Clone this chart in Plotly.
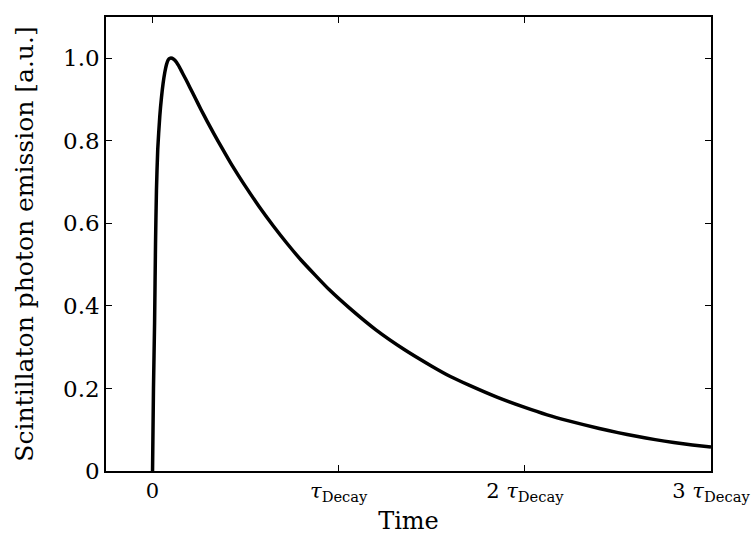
import plotly.graph_objects as go

# Pulse shape (time in units of tau_Decay)
time_vals = [0, 0.005, 0.011, 0.016, 0.021, 0.028, 0.039, 0.048, 0.057, 0.066, 0.075, 0.084, 0.093,
             0.105, 0.12, 0.14, 0.16, 0.18, 0.2, 0.23, 0.26, 0.295, 0.33, 0.375, 0.42, 0.46, 0.5,
             0.575, 0.65, 0.725, 0.8, 0.875, 0.95, 1.06, 1.2, 1.35, 1.5, 1.6, 1.7, 1.85,
             2.0, 2.12, 2.23, 2.4, 2.5, 2.6, 2.7, 2.8, 2.9, 3.0]
emission = [0, 0.2, 0.36, 0.55, 0.68, 0.78, 0.86, 0.905, 0.94, 0.966, 0.985, 0.996, 1.0,
            1.0, 0.995, 0.982, 0.965, 0.948, 0.930, 0.903, 0.876, 0.846, 0.817, 0.781, 0.746, 0.717, 0.689,
            0.639, 0.593, 0.550, 0.510, 0.474, 0.439, 0.394, 0.342, 0.295, 0.254, 0.229, 0.208, 0.179,
            0.154, 0.136, 0.122, 0.103, 0.093, 0.084, 0.076, 0.069, 0.063, 0.058]

x_tickvals = [0, 1, 2, 3]
x_ticktext = ["0", "<i>τ</i><sub>Decay</sub>", "2 <i>τ</i><sub>Decay</sub>", "3 <i>τ</i><sub>Decay</sub>"]
y_tickvals = [0, 0.2, 0.4, 0.6, 0.8, 1.0]
y_ticktext = ["0", "0.2", "0.4", "0.6", "0.8", "1.0"]

FONT = "DejaVu Serif"

fig = go.Figure()
fig.add_trace(go.Scatter(
    x=time_vals, y=emission, mode="lines",
    line=dict(color="black", width=3.5, shape="spline", smoothing=0.6),
    showlegend=False, hoverinfo="skip",
))

axis_common = dict(
    showline=True, linecolor="black", linewidth=1.5, mirror="ticks",
    ticks="inside", ticklen=6, tickwidth=1, tickcolor="black",
    showgrid=False, zeroline=False, ticklabeloverflow="allow", automargin=False,
)

fig.update_xaxes(
    range=[-0.25, 3.0], tickvals=x_tickvals, ticktext=x_ticktext,
    tickfont=dict(family=FONT, size=21, color="black"),
    title=dict(text="Time", font=dict(family=FONT, size=24, color="black"), standoff=8),
    **axis_common,
)
fig.update_yaxes(
    range=[0, 1.1], tickvals=y_tickvals, ticktext=y_ticktext,
    tickfont=dict(family=FONT, size=23, color="black"),
    title=dict(text="Scintillaton photon emission [a.u.]",
               font=dict(family=FONT, size=25, color="black"), standoff=22),
    **axis_common,
)

fig.update_layout(
    width=752, height=543,
    margin=dict(l=106, r=41, t=17, b=72),
    paper_bgcolor="white", plot_bgcolor="white",
    font=dict(family=FONT, color="black"),
)

fig.write_html("out.html")
